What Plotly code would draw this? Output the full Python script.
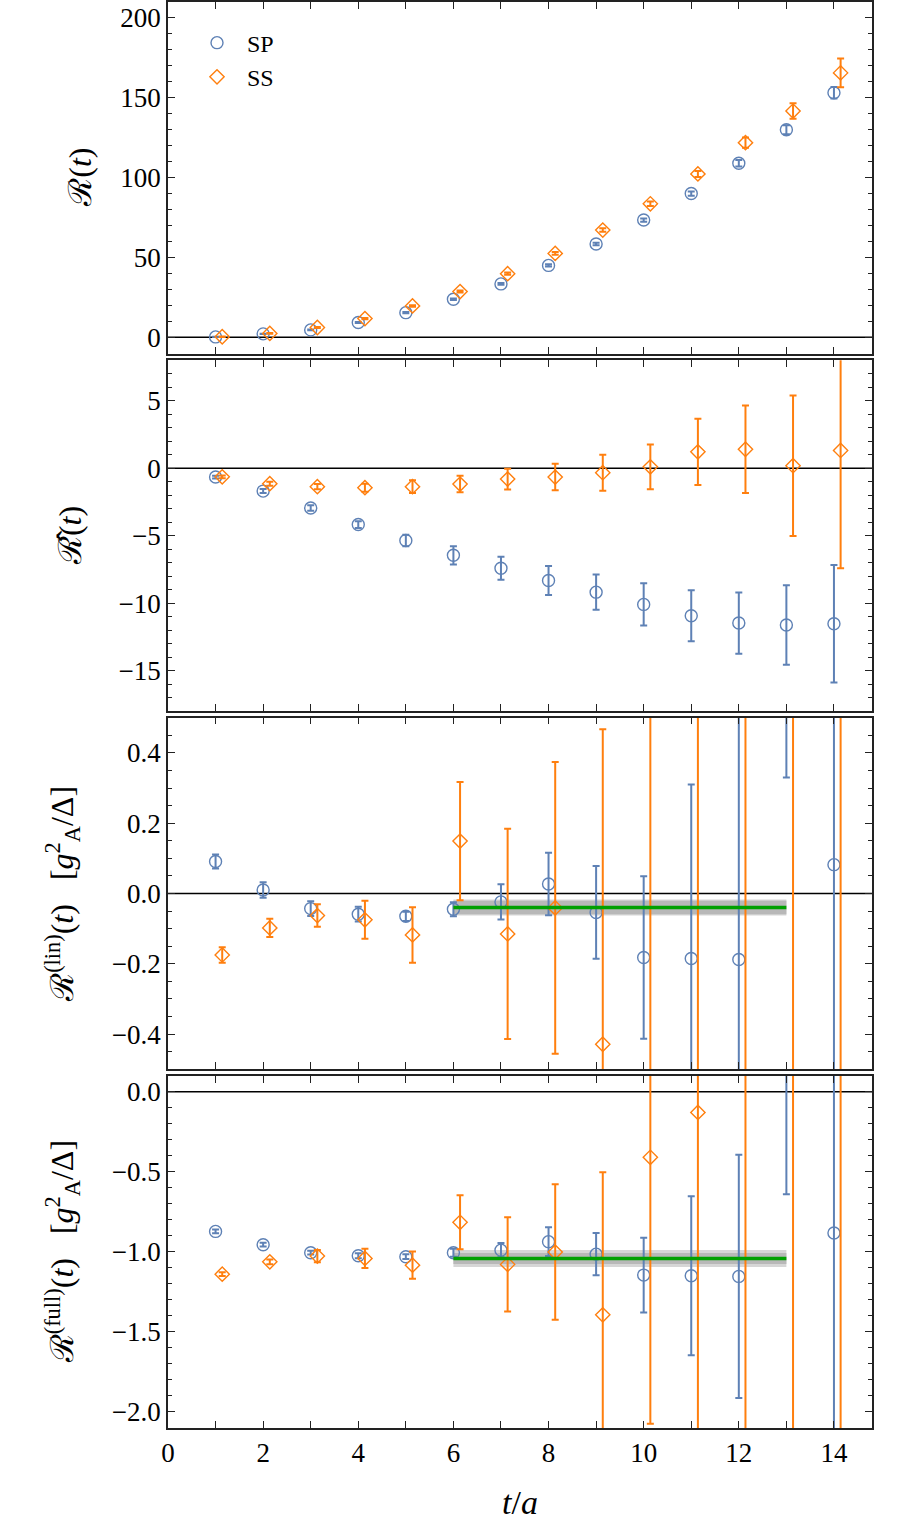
import plotly.graph_objects as go

# ---------------- data ----------------
t = list(range(1, 15))
ss_offset = 0.14
t_ss = [v + ss_offset for v in t]

# Panel 1: R(t)
R_sp = [0.2, 2.1, 4.6, 9.2, 15.4, 23.8, 33.4, 45.0, 58.4, 73.4, 90.0, 109.0, 130.0, 153.1]
R_sp_err = [0.1, 0.15, 0.2, 0.3, 0.4, 0.5, 0.6, 0.7, 0.8, 1.0, 1.3, 2.0, 2.8, 3.6]
R_ss = [0.3, 2.4, 6.1, 11.7, 19.6, 28.6, 39.8, 52.5, 67.1, 83.6, 102.3, 121.9, 141.7, 165.6]
R_ss_err = [0.1, 0.2, 0.3, 0.4, 0.5, 0.6, 0.7, 0.9, 1.1, 1.4, 1.9, 3.2, 4.9, 9.0]

# Panel 2: R-hat(t)
Rh_sp = [-0.66, -1.70, -2.95, -4.18, -5.36, -6.46, -7.42, -8.33, -9.19, -10.10, -10.94, -11.48, -11.63, -11.53]
Rh_sp_err = [0.1, 0.15, 0.2, 0.25, 0.43, 0.68, 0.86, 1.07, 1.30, 1.56, 1.89, 2.27, 2.95, 4.35]
Rh_ss = [-0.64, -1.15, -1.37, -1.45, -1.37, -1.18, -0.81, -0.66, -0.34, 0.10, 1.21, 1.40, 0.18, 1.31]
Rh_ss_err = [0.1, 0.15, 0.2, 0.3, 0.47, 0.61, 0.77, 0.98, 1.33, 1.66, 2.45, 3.24, 5.2, 8.73]

# Panel 3: R^(lin)(t)
Rlin_sp = [0.091, 0.010, -0.043, -0.059, -0.065, -0.045, -0.024, 0.027, -0.054, -0.182, -0.185, -0.188, 1.33, 0.082]
Rlin_sp_err = [0.020, 0.022, 0.021, 0.021, 0.013, 0.020, 0.050, 0.089, 0.132, 0.231, 0.495, 0.76, 1.00, 1.5]
Rlin_ss = [-0.175, -0.098, -0.063, -0.075, -0.118, 0.149, -0.115, -0.041, -0.429, 0.60, 0.83, 1.5, -1.6, 2.0]
Rlin_ss_err = [0.022, 0.026, 0.032, 0.054, 0.079, 0.168, 0.299, 0.415, 0.896, 1.66, 2.1, 3.2, 4.0, 5.0]

# Panel 4: R^(full)(t)
Rfull_sp = [-0.872, -0.955, -1.005, -1.024, -1.030, -1.005, -0.989, -0.936, -1.014, -1.145, -1.149, -1.153, 0.36, -0.882]
Rfull_sp_err = [0.012, 0.012, 0.012, 0.015, 0.015, 0.025, 0.045, 0.09, 0.132, 0.233, 0.497, 0.759, 1.0, 1.5]
Rfull_ss = [-1.139, -1.062, -1.026, -1.041, -1.083, -0.815, -1.078, -1.001, -1.393, -0.409, -0.129, 0.5, -2.6, 1.0]
Rfull_ss_err = [0.012, 0.015, 0.038, 0.06, 0.085, 0.169, 0.295, 0.423, 0.891, 1.664, 2.1, 3.2, 4.0, 5.0]

# Fit results (plateau from t=6 to t=13)
fit_range = [6, 13]
fit_lin = -0.040
fit_lin_err_in = 0.019
fit_lin_err_out = 0.023
fit_full = -1.041
fit_full_err_in = 0.034
fit_full_err_out = 0.053

# Axis settings
y_ranges = [[-10.2, 210], [-18, 8], [-0.5, 0.5], [-2.1, 0.1]]
y_dticks = [50, 5, 0.2, 0.5]
y_minor = [10, 1, 0.05, 0.1]
y_formats = ["", "", ".1f", ".1f"]
y_titles = [
    "ℛ(<i>t</i>)",
    "ℛ\u0302(<i>t</i>)",
    "ℛ<sup>(lin)</sup>(<i>t</i>)   [<i>g</i><sup>2</sup><sub>A</sub>/Δ]",
    "ℛ<sup>(full)</sup>(<i>t</i>)   [<i>g</i><sup>2</sup><sub>A</sub>/Δ]",
]
x_range = [0, 14.8]
x_tick_vals = [0, 2, 4, 6, 8, 10, 12, 14]

# ---------------- style ----------------
BLUE = "#5E81B5"
ORANGE = "#FF7F0E"
GREEN = "#00A000"
FONT = "Times New Roman, Liberation Serif, serif"
domains = [[0.7535, 1.0], [0.5028, 0.7488], [0.2516, 0.4981], [0.0, 0.2470]]
title_x = [-0.125, -0.14, -0.15, -0.15]

fig = go.Figure()

panels = [
    (R_sp, R_sp_err, R_ss, R_ss_err),
    (Rh_sp, Rh_sp_err, Rh_ss, Rh_ss_err),
    (Rlin_sp, Rlin_sp_err, Rlin_ss, Rlin_ss_err),
    (Rfull_sp, Rfull_sp_err, Rfull_ss, Rfull_ss_err),
]
fits = {2: (fit_lin, fit_lin_err_in, fit_lin_err_out), 3: (fit_full, fit_full_err_in, fit_full_err_out)}

for i, (sp, sp_e, ss, ss_e) in enumerate(panels):
    ax = "" if i == 0 else str(i + 1)
    xa, ya = "x" + ax, "y" + ax
    if i in fits:
        c, ein, eout = fits[i]
        for e, col in [(eout, "#D6D6D6"), (ein, "#B8B8B8")]:
            fig.add_trace(go.Scatter(
                x=[fit_range[0], fit_range[1], fit_range[1], fit_range[0]],
                y=[c - e, c - e, c + e, c + e],
                fill="toself", fillcolor=col, mode="none",
                showlegend=False, xaxis=xa, yaxis=ya, hoverinfo="skip"))
    fig.add_trace(go.Scatter(
        x=t, y=sp, mode="markers", name="SP", showlegend=(i == 0),
        marker=dict(symbol="circle-open", size=12, color=BLUE, line=dict(width=1.4)),
        error_y=dict(type="data", array=sp_e, color=BLUE, thickness=2, width=3.5),
        xaxis=xa, yaxis=ya))
    fig.add_trace(go.Scatter(
        x=t_ss, y=ss, mode="markers", name="SS", showlegend=(i == 0),
        marker=dict(symbol="diamond-open", size=11, color=ORANGE, line=dict(width=1.4)),
        error_y=dict(type="data", array=ss_e, color=ORANGE, thickness=2, width=3.5),
        xaxis=xa, yaxis=ya))
    if i in fits:
        c = fits[i][0]
        fig.add_trace(go.Scatter(
            x=fit_range, y=[c, c], mode="lines", line=dict(color=GREEN, width=3.5),
            showlegend=False, xaxis=xa, yaxis=ya, hoverinfo="skip"))
    # zero line
    fig.add_shape(type="line", xref=xa + " domain", yref=ya, x0=0, x1=1, y0=0, y1=0,
                  line=dict(color="black", width=1.5), layer="below")

    fig.update_layout(**{
        ("xaxis" + ax): dict(
            domain=[0, 1], anchor=ya, range=x_range, matches=None if i == 0 else "x",
            tickvals=x_tick_vals, showticklabels=(i == 3),
            ticks="inside", ticklen=7, tickwidth=1.3, tickcolor="#222",
            minor=dict(dtick=1, tick0=0, ticks="inside", ticklen=7, tickwidth=1.3, tickcolor="#222"),
            showline=True, linecolor="#222", linewidth=1.5, mirror="ticks",
            showgrid=False, zeroline=False,
            tickfont=dict(family=FONT, size=27, color="black"),
        ),
        ("yaxis" + ax): dict(
            domain=domains[i], anchor=xa, range=y_ranges[i], dtick=y_dticks[i], tick0=0,
            tickformat=y_formats[i],
            ticks="inside", ticklen=7, tickwidth=1.3, tickcolor="#222",
            minor=dict(dtick=y_minor[i], ticks="inside", ticklen=4, tickwidth=1.1, tickcolor="#222"),
            showline=True, linecolor="#222", linewidth=1.5, mirror="ticks",
            showgrid=False, zeroline=False,
            tickfont=dict(family=FONT, size=27, color="black"),
        ),
    })
    fig.add_annotation(
        text=y_titles[i], xref="paper", yref="paper", x=title_x[i],
        y=(domains[i][0] + domains[i][1]) / 2, xanchor="center", yanchor="middle",
        textangle=-90, showarrow=False, font=dict(family=FONT, size=32, color="black"))

fig.add_annotation(text="<i>t</i>/<i>a</i>", xref="paper", yref="paper",
                   x=0.5, y=-0.052, xanchor="center", yanchor="middle", showarrow=False,
                   font=dict(family=FONT, size=34, color="black"))

fig.update_layout(
    width=917, height=1523,
    margin=dict(l=168, r=45, t=0, b=95),
    paper_bgcolor="white", plot_bgcolor="white",
    showlegend=True,
    legend=dict(x=0.027, y=0.987, xanchor="left", yanchor="top",
                font=dict(family=FONT, size=24, color="black"),
                bgcolor="rgba(0,0,0,0)", itemwidth=50),
    font=dict(family=FONT),
)

fig.write_html("out.html")
